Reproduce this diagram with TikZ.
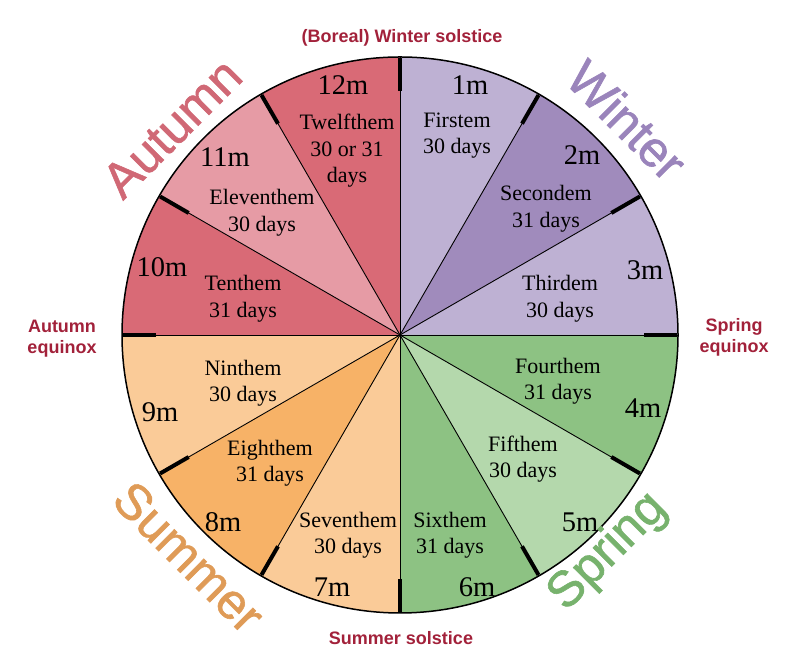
\documentclass[tikz,border=0pt]{standalone}
\usepackage{fontspec}
\setmainfont{Liberation Serif}
\newfontfamily\labelsans{Liberation Sans}
\newfontfamily\seasonsans[FakeBold=1.2]{Liberation Sans}
\definecolor{winterL}{HTML}{BEB1D3}
\definecolor{winterD}{HTML}{A08BBC}
\definecolor{springD}{HTML}{8DC283}
\definecolor{springL}{HTML}{B4D8AC}
\definecolor{summerL}{HTML}{FACB98}
\definecolor{summerD}{HTML}{F7B267}
\definecolor{autumnD}{HTML}{D96A76}
\definecolor{autumnL}{HTML}{E69BA5}
\definecolor{solred}{HTML}{A2213A}
\definecolor{wAutumn}{HTML}{D06875}
\definecolor{wWinter}{HTML}{9A84BB}
\definecolor{wSummer}{HTML}{DF9B57}
\definecolor{wSpring}{HTML}{77B26D}
\begin{document}
\begin{tikzpicture}[x=1pt,y=1pt,
  monthlbl/.style={font=\fontsize{28.5}{30}\selectfont, inner sep=0pt},
  namelbl/.style={font=\fontsize{22}{26.5}\selectfont, align=center, inner sep=0pt},
  eventlbl/.style={font=\labelsans\bfseries\fontsize{18}{21}\selectfont, text=solred, align=center, inner sep=0pt},
  season/.style={font=\seasonsans\fontsize{50}{50}\selectfont, inner sep=0pt},
  divider/.style={line width=0.9pt, black},
  rim/.style={line width=1.5pt, black},
  tickmark/.style={line width=4pt, black}]
\useasboundingbox (0,0) rectangle (800,668);
\coordinate (C) at (400,333);
% wedges
\foreach \i/\col in {1/winterL,2/winterD,3/winterL,4/springD,5/springL,6/springD,
                     7/summerL,8/summerD,9/summerL,10/autumnD,11/autumnL,12/autumnD} {
  \pgfmathsetmacro\a{90-30*(\i-1)}
  \pgfmathsetmacro\b{90-30*\i}
  \fill[\col] (C) -- ++(\a:278) arc[start angle=\a, end angle=\b, radius=278pt] -- cycle;
}
% dividers
\foreach \k in {0,...,11}
  \draw[divider] (C) -- ([shift={(\k*30:278)}]C);
% rim
\draw[rim] (C) circle[radius=278pt];
% ticks
\foreach \k in {0,...,11}
  \draw[tickmark] ([shift={(\k*30:244)}]C) -- ([shift={(\k*30:277)}]C);
% month labels
\node[monthlbl] (m1)  at (470,583) {1m};
\node[monthlbl] (m2)  at (582,513) {2m};
\node[monthlbl] (m3)  at (645,398) {3m};
\node[monthlbl] (m4)  at (643,260) {4m};
\node[monthlbl] (m5)  at (580,146) {5m};
\node[monthlbl] (m6)  at (477,81)  {6m};
\node[monthlbl] (m7)  at (332,81)  {7m};
\node[monthlbl] (m8)  at (223,146) {8m};
\node[monthlbl] (m9)  at (160,256) {9m};
\node[monthlbl] (m10) at (162,401) {10m};
\node[monthlbl] (m11) at (225,511) {11m};
\node[monthlbl] (m12) at (343,583) {12m};
% month names
\node[namelbl] (n1)  at (457,532.6) {Firstem\\30 days};
\node[namelbl] (n2)  at (546,459)   {Secondem\\31 days};
\node[namelbl] (n3)  at (560,369)   {Thirdem\\30 days};
\node[namelbl] (n4)  at (558,287)   {Fourthem\\31 days};
\node[namelbl] (n5)  at (523,209)   {Fifthem\\30 days};
\node[namelbl] (n6)  at (450,133)   {Sixthem\\31 days};
\node[namelbl] (n7)  at (348,133)   {Seventhem\\30 days};
\node[namelbl] (n8)  at (270,205)   {Eighthem\\31 days};
\node[namelbl] (n9)  at (243,285)   {Ninthem\\30 days};
\node[namelbl] (n10) at (243,369)   {Tenthem\\31 days};
\node[namelbl] (n11) at (262,455)   {Eleventhem\\30 days};
\node[namelbl] (n12) at (347,517)   {Twelfthem\\30 or 31\\days};
% events
\node[eventlbl, anchor=base] (ws) at (402,625.6) {(Boreal) Winter solstice};
\node[eventlbl, anchor=base] (ss) at (401,23.6) {Summer solstice};
\node[eventlbl] (ae) at (62,329.6) {Autumn\\equinox};
\node[eventlbl] (se) at (734,330.6) {Spring\\equinox};
% seasons
\node[season, text=wAutumn, rotate=45]  (sa) at (172,540) {Autumn};
\node[season, text=wWinter, rotate=-45] (sw) at (627,548) {Winter};
\node[season, text=wSummer, rotate=-45] (su) at (189,111) {Summer};
\node[season, text=wSpring, rotate=45]  (sp) at (608,116) {Spring};
\end{tikzpicture}
\end{document}
